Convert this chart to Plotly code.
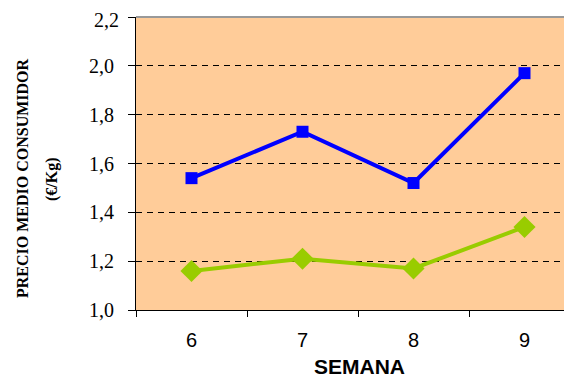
import plotly.graph_objects as go

semanas = [6, 7, 8, 9]
serie_azul = [1.54, 1.73, 1.52, 1.97]
serie_verde = [1.16, 1.21, 1.17, 1.34]
y_ticks = [1.0, 1.2, 1.4, 1.6, 1.8, 2.0, 2.2]
y_ticklabels = ["1,0", "1,2", "1,4", "1,6", "1,8", "2,0", "2,2"]

# page body has an 8px margin; compensate so the picture lines up
OFF = 8
W, H = 572 - OFF, 378 - OFF
L, R, T, B = 136 - OFF, 0, 17 - OFF, 68
pw = W - L - R
ph = H - T - B


def px_x(x):
    return (x - OFF - L) / pw


def px_y(y):
    return (T + ph - (y - OFF)) / ph


SERIF = "Liberation Serif, Times New Roman, serif"
SANS = "Liberation Sans, Arial, sans-serif"

fig = go.Figure()
fig.add_trace(go.Scatter(
    x=semanas, y=serie_azul, mode="lines+markers",
    line=dict(color="#0000FF", width=4),
    marker=dict(symbol="square", size=12, color="#0000FF"),
    showlegend=False, cliponaxis=False))
fig.add_trace(go.Scatter(
    x=semanas, y=serie_verde, mode="lines+markers",
    line=dict(color="#99CC00", width=4),
    marker=dict(symbol="diamond", size=17, color="#99CC00"),
    showlegend=False, cliponaxis=False))

# the top label would be clipped by the div edge; draw it as an annotation
shown_labels = y_ticklabels[:-1] + [""]

fig.update_layout(
    width=W, height=H,
    margin=dict(l=L, r=R, t=T, b=B, autoexpand=False),
    paper_bgcolor="white", plot_bgcolor="#FFCC99",
    xaxis=dict(
        automargin=False,
        range=[5.5, 5.5 + pw / 111.0],
        tickvals=semanas, ticktext=[str(s) for s in semanas],
        ticks="", showgrid=False, zeroline=False,
        showline=True, linecolor="black", linewidth=1,
        tickfont=dict(family=SANS, size=20, color="black"),
        ticklabelstandoff=12,
        minor=dict(tickvals=[5.5, 6.5, 7.5, 8.5, 9.5], ticks="outside",
                   ticklen=6, tickcolor="black", tickwidth=1, showgrid=False),
    ),
    yaxis=dict(
        automargin=False,
        range=[1.0, 2.2], tickvals=y_ticks, ticktext=shown_labels,
        ticks="outside", ticklen=7, tickcolor="black",
        showline=True, linecolor="black", linewidth=1,
        showgrid=True, gridcolor="black", gridwidth=1, griddash="6px,5px",
        zeroline=False,
        tickfont=dict(family=SERIF, size=20, color="black"),
        ticklabelstandoff=10,
    ),
    shapes=[dict(type="line", xref="paper", yref="paper", x0=0, x1=1, y0=1, y1=1,
                 line=dict(color="#999999", width=2))],
    annotations=[
        dict(text=y_ticklabels[-1], xref="paper", yref="paper",
             x=px_x(120), y=px_y(8), showarrow=False,
             xanchor="right", yanchor="top", borderpad=0,
             font=dict(family=SERIF, size=20, color="black")),
        dict(text="<b>SEMANA</b>", xref="paper", yref="paper",
             x=px_x(359), y=px_y(366), showarrow=False,
             xanchor="center", yanchor="middle",
             font=dict(family=SANS, size=21, color="black")),
        dict(text="<b>PRECIO MEDIO CONSUMIDOR</b>", xref="paper", yref="paper",
             x=px_x(22), y=px_y(178), showarrow=False, textangle=-90,
             xanchor="center", yanchor="middle",
             font=dict(family=SERIF, size=16, color="black")),
        dict(text="<b>(€/Kg)</b>", xref="paper", yref="paper",
             x=px_x(52), y=px_y(179), showarrow=False, textangle=-90,
             xanchor="center", yanchor="middle",
             font=dict(family=SERIF, size=16, color="black")),
    ],
)

fig.write_html("out.html")
